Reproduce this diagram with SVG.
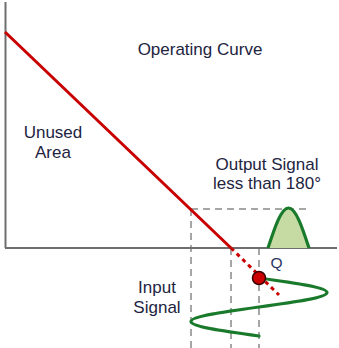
<svg xmlns="http://www.w3.org/2000/svg" width="339" height="348" viewBox="0 0 339 348">
<style>
.lbl{font-family:"Liberation Sans",Arial,sans-serif;font-size:17px;fill:#22243f;text-anchor:middle}
.dash{stroke:#a6a6a6;stroke-width:2;stroke-dasharray:7 5;fill:none}
.axis{stroke:#6e6e6e;stroke-width:2;fill:none}
.red{stroke:#c80000;stroke-width:3;fill:none}
.green{stroke:#1a7a2c;stroke-width:3.2;fill:none;stroke-linecap:round}
</style>
<rect width="339" height="348" fill="#ffffff"/>
<g id="guides">
<line class="dash" x1="191" y1="209" x2="306" y2="209"/>
<line class="dash" x1="191" y1="209" x2="191" y2="348"/>
<line class="dash" x1="231" y1="248" x2="231" y2="348"/>
<line class="dash" x1="259" y1="248" x2="259" y2="348"/>
</g>
<g id="axes">
<line class="axis" x1="5.5" y1="2" x2="5.5" y2="248"/>
<line class="axis" x1="5" y1="248" x2="337" y2="248"/>
</g>
<g id="connectors">
<line class="red" x1="5" y1="32" x2="231" y2="248"/>
<line class="red" x1="231" y1="248" x2="279" y2="295" stroke-dasharray="4 4"/>
</g>
<g id="output-signal">
<path d="M268,248 C274.7,227.5 281.1,208 288.5,208 C295.9,208 302.3,227.5 309,248" fill="#c6dba4" stroke="#1a7a2c" stroke-width="3.2"/>
</g>
<g id="input-signal">
<path class="green" d="M259,278 C293.8,282.7 327,287.2 327,292.5 C327,297.8 293.8,302.3 259,307 C224.2,311.7 191,316.2 191,321.5 C191,326.8 224.2,331.3 259,336"/>
</g>
<g id="q-point">
<circle cx="259" cy="278" r="6.5" fill="#cc0000" stroke="#3a0000" stroke-width="1.5"/>
<text class="lbl" x="276.5" y="268" style="font-size:15.5px;fill:#2a3466">Q</text>
</g>
<g id="labels">
<text class="lbl" x="200" y="55">Operating Curve</text>
<text class="lbl" x="53" y="138">Unused</text>
<text class="lbl" x="53" y="158">Area</text>
<text class="lbl" x="267" y="170">Output Signal</text>
<text class="lbl" x="267" y="189">less than 180°</text>
<text class="lbl" x="157" y="293">Input</text>
<text class="lbl" x="157" y="313">Signal</text>
</g>
</svg>
